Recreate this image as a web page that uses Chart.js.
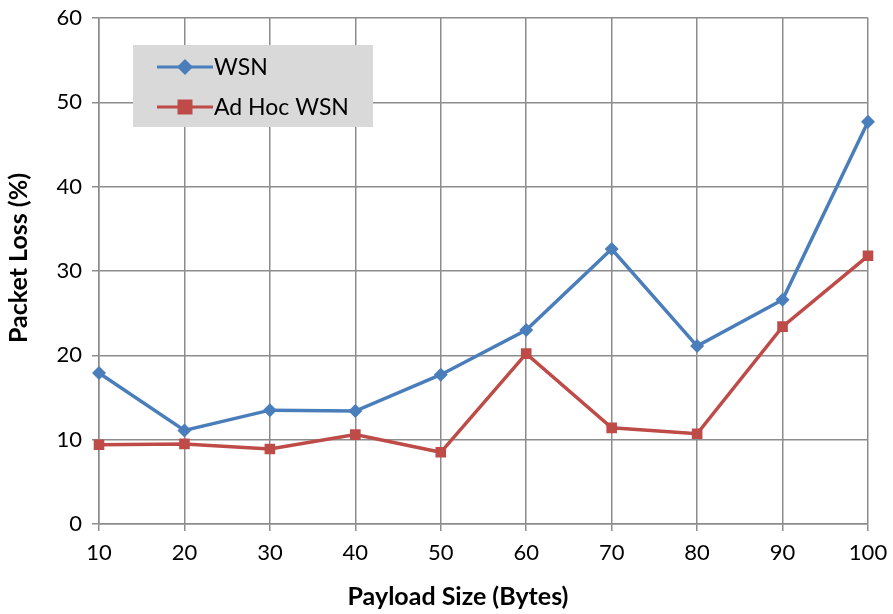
<!DOCTYPE html>
<html>
<head>
<meta charset="utf-8">
<script src="https://cdn.jsdelivr.net/npm/chart.js@4/dist/chart.umd.min.js"></script>
<style>
  html, body { margin: 0; padding: 0; background: #fff; }
  #grafico { display: block; }
</style>
</head>
<body>
<canvas id="grafico" width="893" height="614"></canvas>
<script>
// --------- Datos ---------
const payloads = ['10', '20', '30', '40', '50', '60', '70', '80', '90', '100'];
const perdidaWSN = [17.9, 11.1, 13.5, 13.4, 17.7, 23.0, 32.6, 21.1, 26.6, 47.7];
const perdidaAdHoc = [9.4, 9.5, 8.9, 10.6, 8.5, 20.2, 11.4, 10.7, 23.4, 31.8];
const ticksY = [0, 10, 20, 30, 40, 50, 60];
const tituloX = 'Payload Size (Bytes)';
const tituloY = 'Packet Loss (%)';

const FUENTE = 'Lato, "Open Sans", sans-serif';
const GRIS_REJILLA = '#8c8c8c';

// Títulos de ejes (Excel no los centra exactamente sobre el área)
const titulosEjes = {
  id: 'titulosEjes',
  afterDraw(chart) {
    const { ctx } = chart;
    ctx.save();
    ctx.fillStyle = '#000';
    ctx.font = 'bold 25px ' + FUENTE;
    ctx.textAlign = 'center';
    ctx.textBaseline = 'middle';
    ctx.fillText(tituloX, 458, 597);
    ctx.translate(19, 258);
    ctx.rotate(-Math.PI / 2);
    ctx.fillText(tituloY, 0, 0);
    ctx.restore();
  },
};

// Leyenda dentro del área, con fondo gris (como en Excel)
const leyendaInterna = {
  id: 'leyendaInterna',
  afterDraw(chart) {
    const { ctx } = chart;
    const x0 = 133, y0 = 45, w = 240, h = 82;
    ctx.save();
    ctx.fillStyle = '#d9d9d9';
    ctx.fillRect(x0, y0, w, h);
    chart.data.datasets.forEach((ds, i) => {
      const y = y0 + 22 + i * 40;
      ctx.strokeStyle = ds.borderColor;
      ctx.lineWidth = 3;
      ctx.beginPath();
      ctx.moveTo(157, y);
      ctx.lineTo(213, y);
      ctx.stroke();
      ctx.fillStyle = ds.backgroundColor;
      ctx.beginPath();
      if (ds.pointStyle === 'rect') {
        ctx.rect(185 - 7.5, y - 7.5, 15, 15);
      } else {
        const r = 8;
        ctx.moveTo(185, y - r);
        ctx.lineTo(185 + r, y);
        ctx.lineTo(185, y + r);
        ctx.lineTo(185 - r, y);
        ctx.closePath();
      }
      ctx.fill();
      ctx.fillStyle = '#000';
      ctx.font = '23px ' + FUENTE;
      ctx.textBaseline = 'middle';
      ctx.textAlign = 'left';
      ctx.fillText(ds.label, 214, y + 1);
    });
    ctx.restore();
  },
};

new Chart(document.getElementById('grafico'), {
  type: 'line',
  data: {
    labels: payloads,
    datasets: [
      {
        label: 'WSN',
        data: perdidaWSN,
        borderColor: '#4a7ebb',
        backgroundColor: '#4a7ebb',
        borderWidth: 3.5,
        pointStyle: 'rectRot',
        pointRadius: 7,
        pointBorderWidth: 0,
        tension: 0,
      },
      {
        label: 'Ad Hoc WSN',
        data: perdidaAdHoc,
        borderColor: '#be4b48',
        backgroundColor: '#be4b48',
        borderWidth: 3.5,
        pointStyle: 'rect',
        pointRadius: 7.5,
        pointBorderWidth: 0,
        tension: 0,
      },
    ],
  },
  options: {
    responsive: false,
    animation: false,
    layout: { padding: { top: 18, right: 25, left: 0, bottom: 0 } },
    plugins: {
      legend: { display: false },
      tooltip: { enabled: false },
    },
    scales: {
      x: {
        offset: false,
        grid: { color: GRIS_REJILLA, lineWidth: 1.5, tickLength: 7 },
        border: { color: GRIS_REJILLA, width: 1.5 },
        ticks: { color: '#000', font: { family: FUENTE, size: 22 }, padding: 9, maxRotation: 0 },
        afterFit(scale) {
          scale.height = 90;
          scale.paddingLeft = 0;
          scale.paddingRight = 0;
        },
      },
      y: {
        min: 0,
        max: 60,
        afterBuildTicks(scale) { scale.ticks = ticksY.map(v => ({ value: v })); },
        grid: { color: GRIS_REJILLA, lineWidth: 1.5, tickLength: 7 },
        border: { color: GRIS_REJILLA, width: 1.5 },
        ticks: { color: '#000', font: { family: FUENTE, size: 22 }, padding: 10 },
        afterFit(scale) {
          scale.width = 99;
          scale.paddingTop = 0;
          scale.paddingBottom = 0;
        },
      },
    },
  },
  plugins: [leyendaInterna, titulosEjes],
});
</script>
</body>
</html>
